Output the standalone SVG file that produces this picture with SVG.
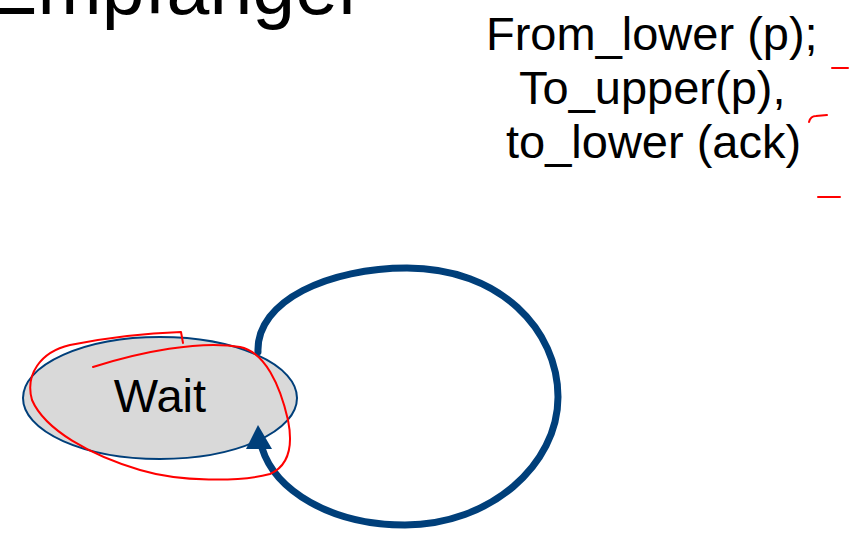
<svg xmlns="http://www.w3.org/2000/svg" width="861" height="534" viewBox="0 0 861 534">
  <style>
    .txt { font-family: "Liberation Sans", Arial, sans-serif; fill: #000; }
    .state { fill: #D9D9D9; stroke: #003F7A; stroke-width: 2; }
    .edge { fill: none; stroke: #003F7A; stroke-width: 7; stroke-linecap: round; }
    .ink { fill: none; stroke: #FF0000; stroke-width: 2; stroke-linecap: round; stroke-linejoin: round; }
  </style>
  <rect width="861" height="534" fill="#FFFFFF"/>

  <!-- slide title, partly above the top edge -->
  <text class="txt" x="-14" y="14" font-size="77" textLength="378" lengthAdjust="spacing">Empfänger</text>

  <!-- transition label -->
  <g id="label" class="txt" font-size="47">
    <text x="486" y="50">From_lower (p);</text>
    <text x="519" y="104">To_upper(p),</text>
    <text x="506" y="158">to_lower (ack)</text>
  </g>

  <!-- state node -->
  <g id="wait">
    <ellipse class="state" cx="160" cy="398" rx="137" ry="61"/>
    <text class="txt" x="160" y="412" font-size="47" text-anchor="middle">Wait</text>
  </g>

  <!-- self-loop transition -->
  <g id="connectors">
    <path class="edge" d="M 258 352 C 256 300 330 268 407 268 C 500 268 558 330 558 397 C 558 465 490 525 405 525 C 330 525 275 490 262 448"/>
    <polygon points="258,425 246,449 272,449" fill="#003F7A"/>
  </g>

  <!-- hand-drawn pen marks -->
  <g id="pen">
    <path class="ink" d="M 93 367 C 140 352 200 340 240 347 C 265 352 280 385 288 420 C 293 445 290 465 270 474 C 240 482 180 482 140 470 C 90 455 45 430 32 400 C 25 375 40 352 70 345 C 110 337 150 333 181 332 L 183 343"/>
    <path class="ink" d="M 832 68 L 848 68"/>
    <path class="ink" d="M 809 122 C 810 118 812 116 816 116 L 827 115"/>
    <path class="ink" d="M 818 197 L 840 197"/>
  </g>
</svg>
